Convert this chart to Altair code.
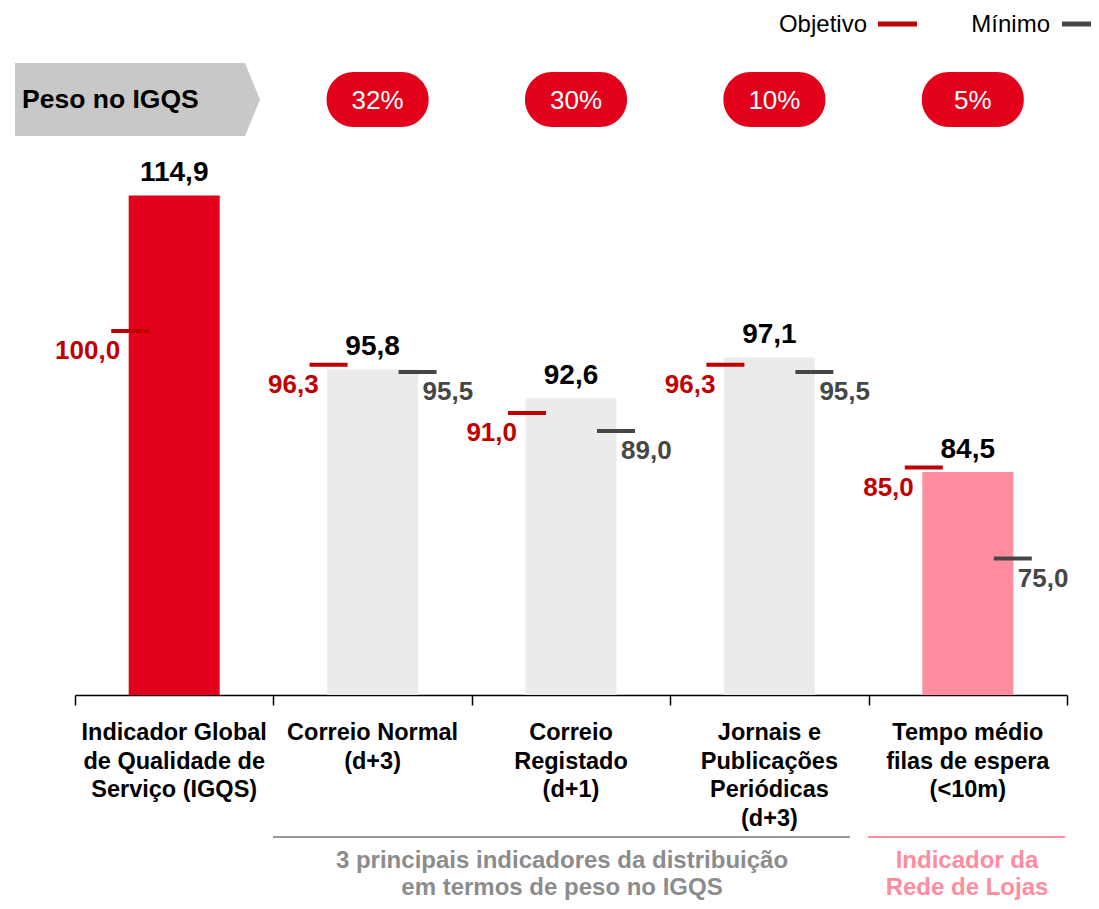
import altair as alt
import pandas as pd

# ---------------- data ----------------
keys = ["IGQS", "CN", "CR", "JPP", "TME"]
cat_labels = [
    "Indicador Global\nde Qualidade de\nServiço (IGQS)",
    "Correio Normal\n(d+3)",
    "Correio\nRegistado\n(d+1)",
    "Jornais e\nPublicações\nPeriódicas\n(d+3)",
    "Tempo médio\nfilas de espera\n(<10m)",
]
valores = [114.9, 95.8, 92.6, 97.1, 84.5]
objetivo = [100.0, 96.3, 91.0, 96.3, 85.0]
minimo = [None, 95.5, 89.0, 95.5, 75.0]
peso = [None, "32%", "30%", "10%", "5%"]
bar_colors = ["#e2001a", "#ebebeb", "#ebebeb", "#ebebeb", "#ff8c9f"]

legend_labels = ["Objetivo", "Mínimo"]
group_labels = [
    "3 principais indicadores da distribuição\nem termos de peso no IGQS",
    "Indicador da\nRede de Lojas",
]


def fmt(v):
    return None if v is None else f"{v:.1f}".replace(".", ",")


df = pd.DataFrame({
    "key": keys,
    "label": cat_labels,
    "valor": valores,
    "valor_txt": [fmt(v) for v in valores],
    "objetivo": objetivo,
    "obj_txt": [fmt(v) for v in objetivo],
    "minimo": minimo,
    "min_txt": [fmt(v) for v in minimo],
    "peso": peso,
})

W, H = 992, 546
FONT = "Liberation Sans"
RED_M = "#c00000"
GRAY_M = "#464646"
GROUP_GRAY = "#8c8c8c"
PINK = "#ff8c9f"

yscale = alt.Scale(domain=[60, 120], nice=False, zero=False)

base = alt.Chart(df).encode(
    x=alt.X(
        "key:N",
        sort=keys,
        scale=alt.Scale(paddingInner=0, paddingOuter=0),
        axis=alt.Axis(
            title=None,
            labels=False,
            domainColor="#000000",
            domainWidth=1.5,
            tickColor="#000000",
            tickWidth=1.5,
            tickSize=10,
            tickBand="extent",
            grid=False,
        ),
    )
)

bars = base.mark_bar(size=91).encode(
    y=alt.Y("valor:Q", scale=yscale, axis=None),
    y2=alt.datum(60),
    color=alt.Color("key:N", scale=alt.Scale(domain=keys, range=bar_colors), legend=None),
)

bar_labels = base.mark_text(
    font=FONT, fontSize=28, fontWeight="bold", color="#000000", dy=-22, baseline="middle"
).encode(y=alt.Y("valor:Q", scale=yscale), text="valor_txt:N")

obj_ticks = base.transform_filter("isValid(datum.objetivo)").mark_tick(
    orient="horizontal", size=38, thickness=4, color=RED_M, xOffset=-44, opacity=1
).encode(y=alt.Y("objetivo:Q", scale=yscale))

obj_labels = base.transform_filter("isValid(datum.objetivo)").mark_text(
    font=FONT, fontSize=26, fontWeight="bold", color=RED_M, align="right",
    baseline="middle", dx=-54, dy=20
).encode(y=alt.Y("objetivo:Q", scale=yscale), text="obj_txt:N")

min_ticks = base.transform_filter("isValid(datum.minimo)").mark_tick(
    orient="horizontal", size=38, thickness=4, color=GRAY_M, xOffset=45, opacity=1
).encode(y=alt.Y("minimo:Q", scale=yscale))

min_labels = base.transform_filter("isValid(datum.minimo)").mark_text(
    font=FONT, fontSize=26, fontWeight="bold", color=GRAY_M, align="left",
    baseline="middle", dx=50, dy=20
).encode(y=alt.Y("minimo:Q", scale=yscale), text="min_txt:N")

cat_text = base.mark_text(
    font=FONT, fontSize=23.5, fontWeight="bold", color="#000000", align="center",
    baseline="alphabetic", lineBreak="\n", lineHeight=28.5
).encode(y=alt.value(591), text="label:N")

pills = base.transform_filter("isValid(datum.peso)").mark_bar(
    size=102, cornerRadius=27, color="#e2001a", xOffset=5
).encode(y=alt.value(-77), y2=alt.value(-22))

pill_text = base.transform_filter("isValid(datum.peso)").mark_text(
    font=FONT, fontSize=26, color="#ffffff", baseline="middle", xOffset=5
).encode(y=alt.value(-48), text="peso:N")

# header arrow "Peso no IGQS"
head_df = pd.DataFrame({"t": ["Peso no IGQS"]})
arrow_path = "M-3.356,-1 L2.945,-1 L3.356,0 L2.945,1 L-3.356,1 Z"
head_shape = alt.Chart(head_df).mark_point(
    shape=arrow_path, size=5329, filled=True, color="#c8c8c8", opacity=1, strokeWidth=0
).encode(x=alt.value(62.5), y=alt.value(-49.5))
head_text = alt.Chart(head_df).mark_text(
    font=FONT, fontSize=26.5, fontWeight="bold", color="#000000", align="left", baseline="middle"
).encode(x=alt.value(-53), y=alt.value(-49), text="t:N")

# legend
leg_df = pd.DataFrame({"t": legend_labels})
leg_obj_text = alt.Chart(leg_df).transform_filter("datum.t == 'Objetivo'").mark_text(
    font=FONT, fontSize=24, color="#000000", align="right", baseline="middle"
).encode(x=alt.value(792), y=alt.value(-124), text="t:N")
leg_obj_line = alt.Chart(leg_df).transform_filter("datum.t == 'Objetivo'").mark_rule(
    color=RED_M, strokeWidth=5
).encode(x=alt.value(803), x2=alt.value(842), y=alt.value(-125))
leg_min_text = alt.Chart(leg_df).transform_filter("datum.t == 'Mínimo'").mark_text(
    font=FONT, fontSize=24, color="#000000", align="right", baseline="middle"
).encode(x=alt.value(975), y=alt.value(-124), text="t:N")
leg_min_line = alt.Chart(leg_df).transform_filter("datum.t == 'Mínimo'").mark_rule(
    color=GRAY_M, strokeWidth=5
).encode(x=alt.value(987), x2=alt.value(1030), y=alt.value(-125))

# bottom group annotations
grp_df = pd.DataFrame({"t": group_labels})
g1 = "datum.t == '" + group_labels[0].replace("\n", "\\n") + "'"
g2 = "datum.t == '" + group_labels[1].replace("\n", "\\n") + "'"
grp1_line = alt.Chart(grp_df).transform_filter(g1).mark_rule(color="#999999", strokeWidth=2).encode(
    x=alt.value(198), x2=alt.value(775), y=alt.value(688))
grp2_line = alt.Chart(grp_df).transform_filter(g2).mark_rule(color=PINK, strokeWidth=2).encode(
    x=alt.value(793), x2=alt.value(990), y=alt.value(688))
grp1_text = alt.Chart(grp_df).transform_filter(g1).mark_text(
    font=FONT, fontSize=24, fontWeight="bold", color=GROUP_GRAY, align="center",
    baseline="alphabetic", lineBreak="\n", lineHeight=27
).encode(x=alt.value(487), y=alt.value(719), text="t:N")
grp2_text = alt.Chart(grp_df).transform_filter(g2).mark_text(
    font=FONT, fontSize=24, fontWeight="bold", color=PINK, align="center",
    baseline="alphabetic", lineBreak="\n", lineHeight=27
).encode(x=alt.value(892), y=alt.value(719), text="t:N")

chart = alt.layer(
    bars, bar_labels, obj_ticks, obj_labels, min_ticks, min_labels, cat_text,
    pills, pill_text, head_shape, head_text,
    leg_obj_text, leg_obj_line, leg_min_text, leg_min_line,
    grp1_line, grp2_line, grp1_text, grp2_text,
).properties(
    width=W,
    height=H,
    autosize=alt.AutoSizeParams(type="none"),
    padding={"left": 67, "top": 141, "right": 24, "bottom": 206},
).configure(font=FONT).configure_view(strokeWidth=0)

chart.save("out.html", embed_options={"renderer": "svg", "actions": False})
